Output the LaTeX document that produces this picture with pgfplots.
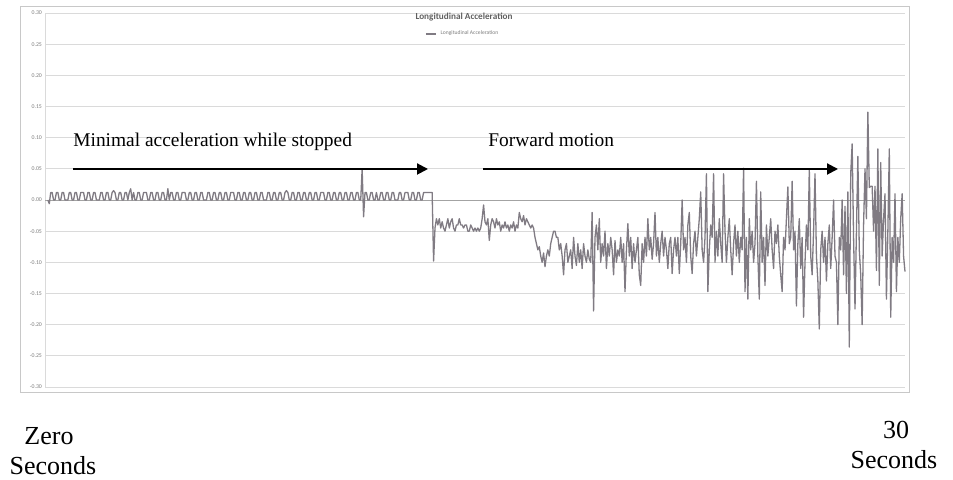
\documentclass[border=0pt]{standalone}
\usepackage{fontspec}
\setmainfont{Liberation Serif}
\newfontfamily\calfont{Carlito}
\usepackage{pgfplots}
\pgfplotsset{compat=1.18}
\usepackage{pgfplotstable}
\usetikzlibrary{arrows.meta}
\definecolor{dataline}{RGB}{128,123,131}
\definecolor{gridc}{RGB}{218,218,218}
\definecolor{borderc}{RGB}{200,200,200}
\definecolor{labc}{RGB}{125,125,125}
\definecolor{titc}{RGB}{95,95,95}
\pgfplotstableread[row sep=\\]{a\\
0.000\\ -0.006\\ 0.012\\ 0.012\\ 0.000\\ 0.000\\ 0.012\\ 0.012\\ 0.000\\ 0.000\\ 0.012\\ 0.012\\ 0.000\\ 0.000\\ 0.000\\ 0.012\\ 0.012\\ 0.000\\ 0.000\\ 0.012\\
0.012\\ 0.000\\ 0.000\\ 0.012\\ 0.012\\ 0.012\\ 0.000\\ 0.000\\ 0.012\\ 0.012\\ 0.000\\ 0.000\\ 0.012\\ 0.012\\ 0.000\\ 0.000\\ 0.000\\ 0.012\\ 0.012\\ 0.000\\
0.000\\ 0.012\\ 0.012\\ 0.000\\ 0.000\\ 0.012\\ 0.015\\ 0.012\\ 0.000\\ 0.000\\ 0.012\\ 0.012\\ 0.000\\ 0.000\\ 0.012\\ 0.012\\ 0.000\\ 0.012\\ 0.018\\ 0.000\\
0.012\\ 0.000\\ 0.000\\ 0.012\\ 0.012\\ 0.000\\ 0.000\\ 0.012\\ 0.012\\ 0.012\\ 0.000\\ 0.000\\ 0.012\\ 0.012\\ 0.000\\ 0.000\\ 0.012\\ 0.012\\ 0.000\\ 0.000\\
0.012\\ 0.012\\ 0.000\\ 0.000\\ 0.018\\ 0.000\\ 0.012\\ 0.012\\ 0.000\\ 0.000\\ 0.012\\ 0.012\\ 0.000\\ 0.000\\ 0.012\\ 0.012\\ 0.012\\ 0.000\\ 0.000\\ 0.012\\
0.012\\ 0.000\\ 0.000\\ 0.012\\ 0.012\\ 0.000\\ 0.000\\ 0.012\\ 0.012\\ 0.000\\ 0.000\\ 0.000\\ 0.012\\ 0.012\\ 0.000\\ 0.000\\ 0.012\\ 0.012\\ 0.000\\ 0.000\\
0.012\\ 0.012\\ 0.000\\ 0.000\\ 0.012\\ 0.012\\ 0.000\\ 0.000\\ 0.012\\ 0.012\\ 0.012\\ 0.000\\ 0.000\\ 0.012\\ 0.012\\ 0.000\\ 0.000\\ 0.012\\ 0.012\\ 0.000\\
0.000\\ 0.012\\ 0.012\\ 0.000\\ 0.000\\ 0.012\\ 0.012\\ 0.000\\ 0.000\\ 0.012\\ 0.012\\ 0.000\\ 0.000\\ 0.000\\ 0.012\\ 0.012\\ 0.000\\ 0.000\\ 0.012\\ 0.012\\
0.000\\ 0.000\\ 0.012\\ 0.012\\ 0.000\\ 0.000\\ 0.012\\ 0.015\\ 0.012\\ 0.000\\ 0.000\\ 0.012\\ 0.012\\ 0.000\\ 0.000\\ 0.012\\ 0.012\\ 0.000\\ 0.000\\ 0.012\\
0.012\\ 0.000\\ 0.000\\ 0.012\\ 0.012\\ 0.000\\ 0.000\\ 0.012\\ 0.012\\ 0.000\\ 0.000\\ 0.012\\ 0.012\\ 0.012\\ 0.000\\ 0.000\\ 0.012\\ 0.012\\ 0.000\\ 0.000\\
0.012\\ 0.012\\ 0.000\\ 0.000\\ 0.012\\ 0.012\\ 0.000\\ 0.000\\ 0.012\\ 0.012\\ 0.000\\ 0.000\\ 0.012\\ 0.012\\ 0.000\\ 0.000\\ 0.012\\ 0.012\\ 0.000\\ 0.000\\
0.050\\ -0.027\\ 0.012\\ 0.012\\ 0.000\\ 0.000\\ 0.012\\ 0.012\\ 0.000\\ 0.000\\ 0.012\\ 0.000\\ 0.000\\ 0.012\\ 0.012\\ 0.000\\ 0.000\\ 0.012\\ 0.012\\ 0.000\\
0.000\\ 0.012\\ 0.012\\ 0.000\\ 0.000\\ 0.000\\ 0.012\\ 0.012\\ 0.000\\ 0.000\\ 0.012\\ 0.012\\ 0.012\\ 0.000\\ 0.000\\ 0.012\\ 0.012\\ 0.000\\ 0.000\\ 0.012\\
0.012\\ 0.000\\ 0.000\\ 0.012\\ 0.012\\ 0.012\\ 0.012\\ 0.012\\ 0.012\\ 0.012\\ -0.098\\ -0.045\\ -0.030\\ -0.040\\ -0.030\\ -0.045\\ -0.035\\ -0.045\\ -0.050\\ -0.040\\
-0.030\\ -0.045\\ -0.035\\ -0.030\\ -0.045\\ -0.050\\ -0.040\\ -0.040\\ -0.030\\ -0.040\\ -0.040\\ -0.045\\ -0.040\\ -0.040\\ -0.050\\ -0.050\\ -0.040\\ -0.045\\ -0.050\\ -0.045\\
-0.050\\ -0.045\\ -0.050\\ -0.045\\ -0.030\\ -0.008\\ -0.035\\ -0.040\\ -0.030\\ -0.065\\ -0.040\\ -0.030\\ -0.035\\ -0.045\\ -0.030\\ -0.040\\ -0.035\\ -0.050\\ -0.040\\ -0.045\\
-0.035\\ -0.045\\ -0.040\\ -0.050\\ -0.040\\ -0.045\\ -0.035\\ -0.050\\ -0.040\\ -0.045\\ -0.020\\ -0.030\\ -0.035\\ -0.025\\ -0.040\\ -0.030\\ -0.035\\ -0.040\\ -0.045\\ -0.040\\
-0.045\\ -0.060\\ -0.070\\ -0.080\\ -0.075\\ -0.090\\ -0.100\\ -0.085\\ -0.107\\ -0.090\\ -0.080\\ -0.090\\ -0.070\\ -0.060\\ -0.050\\ -0.050\\ -0.060\\ -0.060\\ -0.080\\ -0.070\\
-0.090\\ -0.120\\ -0.080\\ -0.070\\ -0.100\\ -0.090\\ -0.080\\ -0.110\\ -0.060\\ -0.090\\ -0.105\\ -0.070\\ -0.100\\ -0.080\\ -0.110\\ -0.070\\ -0.090\\ -0.100\\ -0.080\\ -0.095\\
-0.100\\ -0.020\\ -0.178\\ -0.060\\ -0.040\\ -0.080\\ -0.030\\ -0.100\\ -0.070\\ -0.090\\ -0.050\\ -0.110\\ -0.070\\ -0.090\\ -0.060\\ -0.080\\ -0.120\\ -0.065\\ -0.100\\ -0.080\\
-0.090\\ -0.060\\ -0.100\\ -0.070\\ -0.147\\ -0.080\\ -0.038\\ -0.090\\ -0.060\\ -0.110\\ -0.070\\ -0.100\\ -0.080\\ -0.060\\ -0.120\\ -0.137\\ -0.070\\ -0.100\\ -0.060\\ -0.090\\
-0.030\\ -0.080\\ -0.060\\ -0.095\\ -0.070\\ -0.020\\ -0.090\\ -0.060\\ -0.100\\ -0.070\\ -0.050\\ -0.090\\ -0.060\\ -0.080\\ -0.110\\ -0.070\\ -0.060\\ -0.118\\ -0.080\\ -0.060\\
-0.090\\ -0.060\\ -0.118\\ -0.070\\ 0.000\\ -0.080\\ -0.060\\ -0.100\\ -0.040\\ -0.020\\ -0.090\\ -0.118\\ -0.070\\ -0.050\\ -0.090\\ -0.060\\ -0.030\\ 0.013\\ -0.080\\ -0.100\\
-0.060\\ 0.042\\ -0.147\\ -0.080\\ -0.040\\ -0.060\\ 0.042\\ -0.100\\ -0.050\\ -0.090\\ -0.030\\ -0.070\\ -0.100\\ 0.042\\ -0.050\\ -0.100\\ -0.060\\ -0.030\\ -0.080\\ -0.120\\
-0.070\\ -0.040\\ -0.090\\ -0.050\\ -0.100\\ -0.060\\ -0.080\\ 0.051\\ -0.147\\ -0.060\\ -0.159\\ -0.030\\ -0.080\\ -0.050\\ -0.100\\ -0.070\\ 0.030\\ -0.090\\ -0.159\\ 0.013\\
-0.100\\ -0.060\\ -0.137\\ -0.040\\ -0.090\\ -0.060\\ -0.030\\ -0.080\\ -0.110\\ -0.050\\ -0.070\\ -0.040\\ -0.090\\ -0.120\\ -0.147\\ -0.060\\ -0.080\\ -0.030\\ 0.021\\ -0.070\\
-0.060\\ 0.030\\ -0.080\\ -0.050\\ -0.170\\ -0.070\\ -0.030\\ -0.110\\ -0.060\\ -0.188\\ -0.100\\ -0.040\\ -0.080\\ 0.050\\ -0.090\\ -0.120\\ -0.050\\ 0.042\\ -0.090\\ -0.130\\
-0.207\\ -0.080\\ -0.050\\ -0.100\\ -0.060\\ -0.130\\ -0.070\\ -0.040\\ -0.110\\ -0.060\\ 0.000\\ -0.090\\ -0.100\\ -0.200\\ -0.060\\ -0.080\\ 0.000\\ -0.120\\ -0.010\\ -0.150\\
0.013\\ -0.236\\ 0.042\\ 0.090\\ -0.060\\ -0.175\\ -0.050\\ 0.070\\ -0.080\\ -0.120\\ -0.200\\ -0.040\\ 0.050\\ -0.030\\ 0.141\\ 0.020\\ 0.022\\ 0.022\\ -0.050\\ 0.022\\
-0.113\\ 0.082\\ -0.137\\ 0.060\\ -0.090\\ -0.030\\ 0.010\\ -0.159\\ -0.050\\ 0.082\\ -0.188\\ -0.060\\ -0.100\\ 0.010\\ -0.147\\ -0.060\\ -0.100\\ -0.030\\ 0.010\\ -0.090\\
-0.115\\
}\accel
\begin{document}
\begin{tikzpicture}[x=0.5pt,y=0.5pt]
\path[use as bounding box] (0,0) rectangle (953,480);
\draw[borderc, line width=0.5pt] (20,87) rectangle (909,473);
\begin{axis}[
  at={(22.5pt,46.5pt)}, anchor=south west,
  width=430pt, height=187pt, scale only axis,
  xmin=-0.1, xmax=30, ymin=-0.3, ymax=0.3,
  axis x line=none, axis y line*=left,
  y axis line style={-, draw=gridc, line width=0.5pt},
  xtick=\empty,
  ytick={-0.3,-0.25,-0.2,-0.15,-0.1,-0.05,0,0.05,0.1,0.15,0.2,0.25,0.3},
  ymajorgrids, grid style={gridc, line width=0.45pt},
  major tick length=0pt,
  yticklabel style={font=\calfont\fontsize{2.9}{3}\selectfont, text=labc, xshift=2pt,
    /pgf/number format/fixed, /pgf/number format/fixed zerofill,
    /pgf/number format/precision=2, /pgf/number format/assume math mode=true},
  legend style={at={(rel axis cs:0.487,0.944)}, anchor=center, draw=none, fill=none,
    font=\calfont\fontsize{2.8}{3}\selectfont, text=labc, inner sep=0pt},
  legend image code/.code={\draw[#1] (0pt,0pt) -- (5pt,0pt);},
  clip=false,
]
\draw[gridc!75!black, line width=0.45pt] (axis cs:-0.1,0) -- (axis cs:30,0);
\addplot[dataline, line width=0.65pt, line join=round] table[x expr=\coordindex*0.05, y=a] {\accel};
\addlegendentry{Longitudinal Acceleration}
\end{axis}
\node[font=\calfont\bfseries\fontsize{4.6}{5}\selectfont, text=titc] at (464,463) {Longitudinal Acceleration};
\node[anchor=base west, inner sep=0pt, font=\fontsize{9.7}{11}\selectfont] at (73,333) {Minimal acceleration while stopped};
\node[anchor=base west, inner sep=0pt, font=\fontsize{9.7}{11}\selectfont] at (488,333) {Forward motion};
\draw[line width=1pt, -{Triangle[length=5.5pt,width=5.5pt]}] (73,311) -- (428,311);
\draw[line width=1pt, -{Triangle[length=5.5pt,width=5.5pt]}] (483,311) -- (838,311);
\node[anchor=base, inner sep=0pt, font=\fontsize{13}{15}\selectfont] at (49,35) {Zero};
\node[anchor=base, inner sep=0pt, font=\fontsize{13}{15}\selectfont] at (53,5) {Seconds};
\node[anchor=base, inner sep=0pt, font=\fontsize{13}{15}\selectfont] at (896,41) {30};
\node[anchor=base, inner sep=0pt, font=\fontsize{13}{15}\selectfont] at (894,11) {Seconds};
\end{tikzpicture}
\end{document}
